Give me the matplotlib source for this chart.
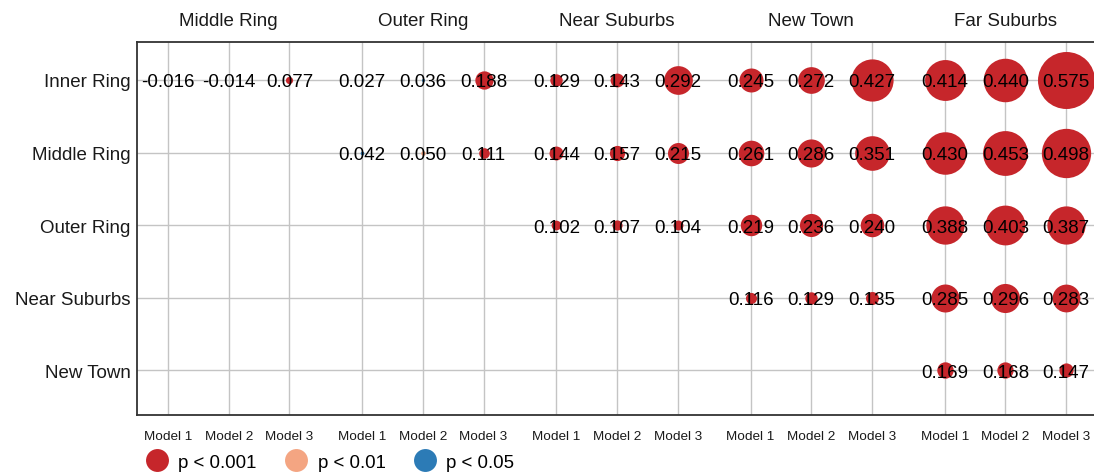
import numpy as np
import matplotlib
matplotlib.use("Agg")
import matplotlib.pyplot as plt
import matplotlib.transforms as mtransforms
from matplotlib.lines import Line2D

plt.rcParams['font.family'] = ['Liberation Sans', 'DejaVu Sans']

# ---- data ----
rows = ['Inner Ring', 'Middle Ring', 'Outer Ring', 'Near Suburbs', 'New Town']
groups = ['Middle Ring', 'Outer Ring', 'Near Suburbs', 'New Town', 'Far Suburbs']
models = ['Model 1', 'Model 2', 'Model 3']
nan = np.nan

vals_inner = [-0.016, -0.014, 0.077, 0.027, 0.036, 0.188, 0.129, 0.143, 0.292,
              0.245, 0.272, 0.427, 0.414, 0.440, 0.575]
vals_middle = [nan, nan, nan, 0.042, 0.050, 0.111, 0.144, 0.157, 0.215,
               0.261, 0.286, 0.351, 0.430, 0.453, 0.498]
vals_outer = [nan, nan, nan, nan, nan, nan, 0.102, 0.107, 0.104,
              0.219, 0.236, 0.240, 0.388, 0.403, 0.387]
vals_near = [nan] * 9 + [0.116, 0.129, 0.135, 0.285, 0.296, 0.283]
vals_newtown = [nan] * 12 + [0.169, 0.168, 0.147]

# significance: 3 = p<0.001, 2 = p<0.01, 1 = p<0.05, 0 = n.s.
sig_inner = [0, 0, 3, 0, 1, 3, 3, 3, 3, 3, 3, 3, 3, 3, 3]
sig_middle = [0, 0, 0, 1, 2, 3, 3, 3, 3, 3, 3, 3, 3, 3, 3]
sig_outer = [3] * 15
sig_near = [3] * 15
sig_newtown = [3] * 15

values = [vals_inner, vals_middle, vals_outer, vals_near, vals_newtown]
sigs = [sig_inner, sig_middle, sig_outer, sig_near, sig_newtown]

sig_labels = ['p < 0.001', 'p < 0.01', 'p < 0.05']
sig_colors = {3: '#C6262B', 2: '#F4A582', 1: '#2C7BB6'}

# ---- figure ----
W, H = 1094, 477
fig = plt.figure(figsize=(W / 100, H / 100), dpi=100)
ax = fig.add_axes([137 / W, 1 - 416 / H, 1 - 137 / W + 0.002, (416 - 43) / H])

group_step = 3.2
xpos = [g * group_step + m for g in range(len(groups)) for m in range(len(models))]

# grid
for x in xpos:
    ax.axvline(x, color='#C4C4C4', lw=1.0, zorder=0)
for i in range(len(rows)):
    ax.axhline(i, color='#C4C4C4', lw=1.0, zorder=0)

txt_trans = mtransforms.offset_copy(ax.transData, fig=fig, x=0, y=-2, units='dots')
px2pt = 0.72
for i, (rv, rs) in enumerate(zip(values, sigs)):
    for j, (v, s) in enumerate(zip(rv, rs)):
        if np.isnan(v):
            continue
        if s > 0:
            d = max(100 * v - 0.5, 2.0) * px2pt
            ax.scatter(xpos[j], i, s=d ** 2, color=sig_colors[s],
                       linewidths=0, zorder=2)
        ax.text(xpos[j], i, f"{v:.3f}", ha='center', va='center',
                fontsize=13.5, color='black', zorder=3, transform=txt_trans)

ax.set_xlim(-0.512, 15.296)
ax.set_ylim(4.62, -0.524)

ax.set_yticks(range(len(rows)))
ax.set_yticklabels(rows, fontsize=13.5, color='#1a1a1a')
ax.set_xticks(xpos)
ax.set_xticklabels(models * len(groups), fontsize=9.7, color='#1a1a1a')
ax.tick_params(axis='both', length=0)
ax.tick_params(axis='y', pad=4.5)
ax.tick_params(axis='x', pad=10.5)

for sp in ['left', 'top', 'bottom']:
    ax.spines[sp].set_linewidth(1.3)
    ax.spines[sp].set_color('#333333')
ax.spines['right'].set_visible(False)

# group headers
trans = ax.get_xaxis_transform()
for g, name in enumerate(groups):
    ax.text(g * group_step + 1, 1.057, name, transform=trans, ha='center',
            va='center', fontsize=13.5, color='#1a1a1a')

# legend
handles = [Line2D([0], [0], marker='o', linestyle='none', markersize=16.5,
                  markerfacecolor=sig_colors[k], markeredgewidth=0)
           for k in (3, 2, 1)]
fig.legend(handles, sig_labels, loc='center left',
           bbox_to_anchor=(131 / W, 1 - 463 / H), ncol=3, frameon=False,
           fontsize=13.4, handlelength=1.0, handletextpad=0.63,
           columnspacing=1.65, borderpad=0.4)

fig.savefig('out.png', dpi=100)
